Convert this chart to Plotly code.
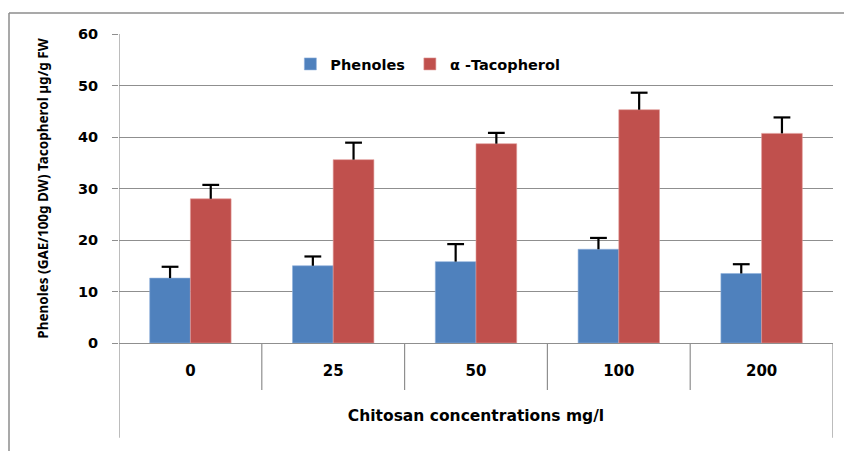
import plotly.graph_objects as go

categories = ["0", "25", "50", "100", "200"]
phenoles = [12.6, 15.0, 15.8, 18.2, 13.5]
phenoles_err = [2.2, 1.8, 3.4, 2.2, 1.8]
tocopherol = [28.0, 35.6, 38.7, 45.3, 40.7]
tocopherol_err = [2.7, 3.3, 2.1, 3.3, 3.1]
y_ticks = [0, 10, 20, 30, 40, 50, 60]

BLUE = "#4F81BD"
RED = "#C0504D"
GRID = "#8f8f8f"
FONT = "DejaVu Sans"
GAP = 0.43

fig = go.Figure()
series = [
    ("Phenoles", phenoles, phenoles_err, BLUE, "#8fb0dc", "p"),
    ("α -Tacopherol", tocopherol, tocopherol_err, RED, "#e09a98", "t"),
]
for name, vals, errs, col, edge, grp in series:
    fig.add_trace(go.Bar(
        x=categories, y=vals, name=name, offsetgroup=grp,
        marker=dict(color=col, line=dict(color=edge, width=0.6)),
        error_y=dict(type="data", symmetric=False, array=errs,
                     arrayminus=[0] * len(errs),
                     color="black", thickness=2.2, width=0),
    ))
for name, vals, errs, col, edge, grp in series:
    fig.add_trace(go.Scatter(
        x=categories, y=[v + e for v, e in zip(vals, errs)],
        mode="markers", offsetgroup=grp, showlegend=False, hoverinfo="skip",
        marker=dict(symbol="line-ew", size=12, color="black",
                    line=dict(width=2.2, color="black")),
    ))

n = len(categories)
shapes = []
for i in range(1, n):
    shapes.append(dict(type="line", xref="x", yref="paper",
                       x0=i - 0.5, x1=i - 0.5, y0=0, y1=-0.152,
                       line=dict(color=GRID, width=1.2)))
shapes.append(dict(type="line", xref="x", yref="paper",
                   x0=-0.5, x1=-0.5, y0=1, y1=-0.307,
                   line=dict(color=GRID, width=1.2)))
shapes.append(dict(type="line", xref="x", yref="paper",
                   x0=n - 0.5, x1=n - 0.5, y0=0, y1=-0.307,
                   line=dict(color=GRID, width=1.2)))
FX = (9 - 119) / 714
FY = (343 - 13) / 309
shapes.append(dict(type="line", xref="paper", yref="paper",
                   x0=FX, x1=1.2, y0=FY, y1=FY,
                   line=dict(color="#8c8c8c", width=1.5)))
shapes.append(dict(type="line", xref="paper", yref="paper",
                   x0=FX, x1=FX, y0=FY, y1=-0.5,
                   line=dict(color="#8c8c8c", width=1.5)))

fig.update_layout(
    width=844, height=443,
    margin=dict(l=111, r=19, t=26, b=108),
    paper_bgcolor="white", plot_bgcolor="white",
    barmode="group", bargap=GAP, bargroupgap=0,
    scattermode="group", scattergap=GAP,
    font=dict(family=FONT, color="black"),
    showlegend=True,
    legend=dict(orientation="h", x=0.24, y=0.903, xanchor="left", yanchor="middle",
                font=dict(family=FONT, size=14.5, color="black", weight="bold"),
                bgcolor="rgba(0,0,0,0)", itemwidth=30, traceorder="normal"),
    shapes=shapes,
    xaxis=dict(
        type="category", categoryorder="array", categoryarray=categories,
        range=[-0.5, n - 0.5],
        showline=True, linecolor=GRID, linewidth=1.2,
        ticks="", showgrid=False,
        tickfont=dict(family=FONT, size=15, weight="bold"),
        ticklabelstandoff=14,
        title=dict(text="Chitosan concentrations mg/l",
                   font=dict(family=FONT, size=15.5, weight="bold"),
                   standoff=31),
    ),
    yaxis=dict(
        range=[0, 60], tickvals=y_ticks, ticktext=[str(v) for v in y_ticks],
        showgrid=True, gridcolor=GRID, gridwidth=1,
        zeroline=False, showline=False,
        ticks="outside", ticklen=6, tickcolor=GRID,
        tickfont=dict(family=FONT, size=14.5, weight="bold"),
        ticklabelstandoff=11,
        title=dict(text="Phenoles (GAE/100g DW) Tacopherol µg/g FW",
                   font=dict(family="Noto Sans", size=13.5, weight="bold"),
                   standoff=26),
    ),
)

fig.write_html("out.html")
